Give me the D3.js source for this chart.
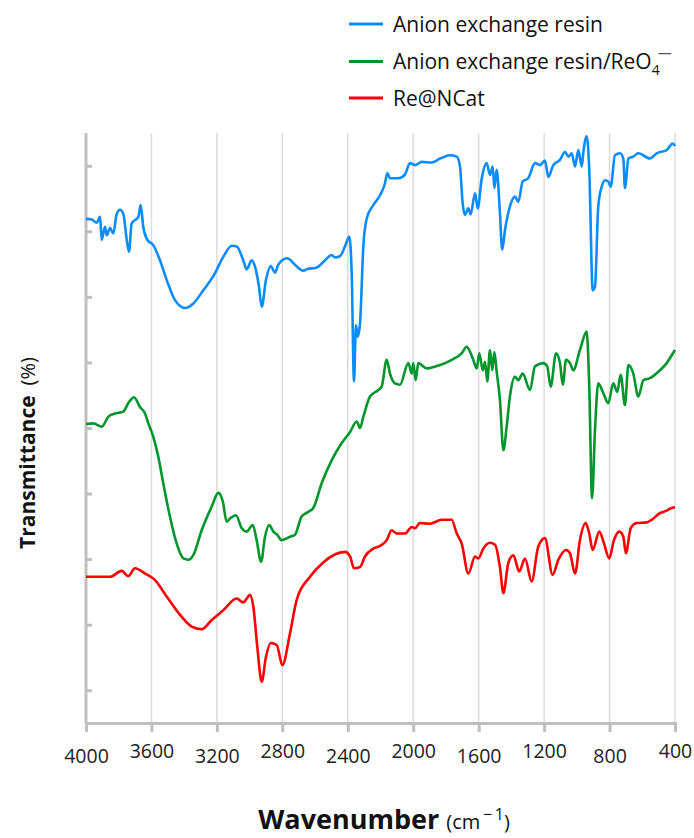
<!DOCTYPE html>
<html>
<head>
<meta charset="utf-8">
<script src="https://cdn.jsdelivr.net/npm/d3@7"></script>
<style>
  body { margin: 0; background: #fff; }
  svg { display: block; font-family: "Open Sans", sans-serif; }
</style>
</head>
<body>
<div id="chart"></div>
<script>
// FTIR spectra, [wavenumber (cm-1), transmittance (arb.)]
const resin = [
  [4000,76.9],[3965,76.8],[3935,76.3],[3914,77.2],[3904,73.7],[3884,75.7],[3873,74.4],[3853,75.5],
  [3833,74.7],[3812,77.7],[3792,78.3],[3772,77.7],[3751,73.7],[3737,71.9],[3721,76.2],[3701,76.7],
  [3680,77.2],[3666,79.0],[3650,75.7],[3625,73.7],[3589,72.9],[3548,70.6],[3507,67.6],[3456,64.5],
  [3395,63.3],[3344,64.0],[3283,66.0],[3212,68.6],[3161,71.1],[3109,72.8],[3079,72.7],[3039,70.6],
  [3018,69.2],[2987,70.6],[2967,69.6],[2943,66.6],[2926,63.5],[2900,67.6],[2871,69.7],[2845,68.7],
  [2825,69.9],[2770,70.9],[2723,69.9],[2672,69.0],[2641,69.3],[2600,69.4],[2580,69.6],[2539,70.6],
  [2498,71.4],[2478,71.0],[2448,71.2],[2417,72.7],[2391,74.2],[2376,68.6],[2362,52.1],[2350,60.7],
  [2339,58.9],[2325,61.0],[2305,72.7],[2284,77.0],[2244,79.0],[2203,80.5],[2173,82.3],[2158,83.9],
  [2142,83.1],[2091,83.1],[2050,83.7],[2020,85.4],[1989,85.1],[1948,85.6],[1887,85.5],[1836,86.1],
  [1775,86.6],[1734,86.4],[1714,84.9],[1698,79.3],[1684,77.5],[1663,78.5],[1649,77.6],[1622,80.8],
  [1606,78.5],[1581,83.1],[1551,85.4],[1531,83.6],[1514,84.9],[1504,81.6],[1490,84.4],[1470,77.8],
  [1456,72.2],[1439,75.2],[1409,78.8],[1378,80.3],[1358,79.5],[1331,82.6],[1297,83.1],[1256,85.4],
  [1225,85.1],[1195,85.8],[1174,83.3],[1144,85.1],[1103,85.9],[1072,87.1],[1052,86.4],[1031,86.9],
  [1011,84.9],[991,87.4],[970,84.9],[960,87.1],[940,89.5],[924,84.4],[903,66.0],[889,66.6],
  [869,78.8],[848,81.8],[828,82.8],[808,82.6],[793,81.8],[767,86.6],[736,86.9],[716,86.1],
  [706,81.6],[685,86.1],[655,86.4],[624,86.9],[553,86.1],[512,86.9],[451,87.4],[414,88.4],[400,88.0]
];

const resinReO4 = [
  [4000,45.6],[3955,45.7],[3904,45.2],[3864,46.7],[3823,47.2],[3772,47.5],[3741,48.8],[3707,49.7],
  [3670,48.2],[3639,47.2],[3619,45.7],[3589,43.7],[3558,40.6],[3528,36.6],[3487,31.5],[3446,27.4],
  [3405,25.1],[3375,24.9],[3344,25.6],[3293,29.4],[3232,33.0],[3191,35.1],[3164,33.8],[3140,30.7],
  [3120,31.2],[3083,31.7],[3048,29.7],[3018,29.2],[2981,30.2],[2957,27.9],[2930,24.6],[2906,28.4],
  [2880,30.2],[2855,29.2],[2831,28.7],[2804,27.9],[2753,28.4],[2723,28.7],[2682,31.5],[2641,32.2],
  [2611,32.8],[2559,36.6],[2498,40.1],[2437,42.7],[2386,44.4],[2345,46.0],[2325,45.0],[2305,46.7],
  [2264,49.8],[2213,50.8],[2193,51.3],[2162,55.4],[2142,53.3],[2111,51.8],[2081,51.6],[2030,54.9],
  [2009,53.3],[2000,54.9],[1985,52.3],[1969,54.9],[1918,54.1],[1836,54.6],[1765,55.4],[1704,56.4],
  [1673,57.4],[1649,56.4],[1633,55.4],[1612,54.1],[1596,56.4],[1575,53.8],[1561,55.1],[1547,52.1],
  [1531,56.9],[1517,53.8],[1504,56.6],[1490,53.6],[1470,49.3],[1449,41.6],[1429,45.2],[1409,49.8],
  [1378,52.8],[1358,52.3],[1331,53.3],[1286,50.8],[1256,54.4],[1205,54.9],[1181,54.4],[1160,51.3],
  [1127,56.4],[1103,54.9],[1086,51.6],[1066,55.4],[1042,54.9],[1022,53.8],[981,56.9],[940,59.7],
  [924,51.3],[907,34.3],[889,44.7],[869,51.8],[838,50.3],[808,48.8],[777,51.8],[753,50.5],
  [732,53.1],[706,48.5],[685,54.6],[655,53.3],[624,49.8],[593,52.3],[553,52.6],[492,53.8],
  [451,54.9],[420,56.1],[400,56.9]
];

const reNCat = [
  [4000,22.3],[3853,22.3],[3782,23.2],[3741,22.4],[3701,23.6],[3639,22.8],[3578,21.8],[3507,19.3],
  [3425,16.5],[3354,14.7],[3293,14.3],[3232,15.7],[3161,17.2],[3079,19.0],[3039,18.4],[2998,19.5],
  [2977,17.7],[2953,11.6],[2926,6.3],[2900,10.1],[2871,12.2],[2834,11.9],[2800,8.8],[2753,13.7],
  [2712,18.8],[2631,22.3],[2550,24.5],[2417,26.1],[2386,25.4],[2362,23.6],[2325,23.8],[2295,25.4],
  [2244,26.6],[2203,27.0],[2162,27.9],[2132,29.4],[2101,28.9],[2050,28.9],[2009,29.9],[1989,29.7],
  [1959,30.5],[1897,30.4],[1826,31.0],[1765,31.0],[1734,28.9],[1704,27.4],[1663,22.8],[1622,25.4],
  [1602,25.1],[1572,26.6],[1531,27.5],[1500,27.2],[1470,23.8],[1449,19.8],[1419,24.4],[1388,25.6],
  [1352,23.1],[1317,25.1],[1276,21.6],[1236,26.9],[1195,28.2],[1148,22.6],[1113,24.9],[1066,26.4],
  [1042,25.9],[1011,22.8],[981,27.9],[946,30.5],[924,28.9],[903,26.4],[863,29.2],[834,27.4],
  [802,25.1],[773,27.9],[740,29.2],[716,28.4],[700,25.9],[671,29.7],[634,30.5],[573,30.6],
  [543,31.0],[492,32.0],[451,32.4],[420,32.8],[400,32.9]
];

const xTicks = [4000, 3600, 3200, 2800, 2400, 2000, 1600, 1200, 800, 400];
const yTicks = [5, 15, 25, 35, 45, 55, 65, 75, 85];

const seriesNames = ["Anion exchange resin", "Anion exchange resin/ReO4", "Re@NCat"];
const seriesColors = ["#0a8cff", "#00962d", "#ff0000"];
const seriesData = [resin, resinReO4, reNCat];

const width = 694;
const height = 838;
const margin = { top: 133, right: 19, bottom: 115, left: 86 };

const svg = d3.select("#chart")
  .append("svg")
  .attr("width", width)
  .attr("height", height);

const x = d3.scaleLinear()
  .domain([4000, 400])
  .range([margin.left, width - margin.right]);

const y = d3.scaleLinear()
  .domain([0, 90])
  .range([height - margin.bottom, margin.top]);

// vertical gridlines
svg.append("g")
  .selectAll("line")
  .data(xTicks.slice(1))
  .join("line")
  .attr("x1", d => x(d)).attr("x2", d => x(d))
  .attr("y1", y(90)).attr("y2", y(0))
  .attr("stroke", "#dcdcdc")
  .attr("stroke-width", 1.5);

// x axis
const xAxis = svg.append("g")
  .attr("transform", `translate(0,${y(0)})`)
  .call(d3.axisBottom(x).tickValues(xTicks).tickSize(9).tickFormat(d3.format("d")));
xAxis.select(".domain").attr("stroke", "#bfbfbf").attr("stroke-width", 3);
xAxis.selectAll(".tick line").attr("stroke", "#bfbfbf").attr("stroke-width", 3);
xAxis.selectAll(".tick text")
  .attr("y", (d, i) => i % 2 === 0 ? 26 : 21)
  .attr("dy", "0.71em")
  .attr("fill", "#222")
  .style("font-family", "'Open Sans', sans-serif")
  .style("font-size", "19.5px");

// y axis, ticks pointing inward, no labels
const yAxis = svg.append("g")
  .attr("transform", `translate(${x(4000)},0)`)
  .call(d3.axisRight(y).tickValues(yTicks).tickSize(6).tickFormat(""));
yAxis.select(".domain").attr("stroke", "#bfbfbf").attr("stroke-width", 3).attr("d", `M0,${y(0)}V${y(90)}`);
yAxis.selectAll(".tick line").attr("stroke", "#bfbfbf").attr("stroke-width", 3);

// spectra
const line = d3.line()
  .x(d => x(d[0]))
  .y(d => y(d[1]))
  .curve(d3.curveMonotoneX);

svg.append("g")
  .selectAll("path")
  .data(seriesData)
  .join("path")
  .attr("d", line)
  .attr("fill", "none")
  .attr("stroke", (d, i) => seriesColors[i])
  .attr("stroke-width", 2.6)
  .attr("stroke-linejoin", "round");

// legend
const legendY = [24, 61.5, 98];
const legend = svg.append("g");
seriesNames.forEach((name, i) => {
  legend.append("line")
    .attr("x1", 349).attr("x2", 383)
    .attr("y1", legendY[i]).attr("y2", legendY[i])
    .attr("stroke", seriesColors[i])
    .attr("stroke-width", 3);
  const t = legend.append("text")
    .attr("x", 393)
    .attr("y", legendY[i] + 7.5)
    .attr("fill", "#111")
    .style("font-size", "21px");
  if (i === 1) {
    t.append("tspan").text("Anion exchange resin/ReO");
    t.append("tspan").attr("dy", 6).style("font-size", "14px").text("4");
    t.append("tspan").attr("dy", -17).attr("dx", -2).style("font-size", "14px").attr("fill", "#555").text("\u2014");
  } else {
    t.text(name);
  }
});

// axis titles
const xt = svg.append("text")
  .attr("x", 384)
  .attr("y", 829)
  .attr("text-anchor", "middle")
  .attr("fill", "#111");
xt.append("tspan").style("font-weight", "bold").style("font-size", "27px").text("Wavenumber ");
xt.append("tspan").style("font-size", "20px").text("(cm");
xt.append("tspan").attr("dy", -9).style("font-size", "16px").text("\u2009\u2212\u20091");
xt.append("tspan").attr("dy", 9).style("font-size", "20px").text(")");

const yt = svg.append("text")
  .attr("transform", "translate(35,453) rotate(-90)")
  .attr("text-anchor", "middle")
  .attr("fill", "#111");
yt.append("tspan").style("font-weight", "bold").style("font-size", "21px").text("Transmittance");
yt.append("tspan").style("font-size", "20px").text("\u2002(%)");
</script>
</body>
</html>
